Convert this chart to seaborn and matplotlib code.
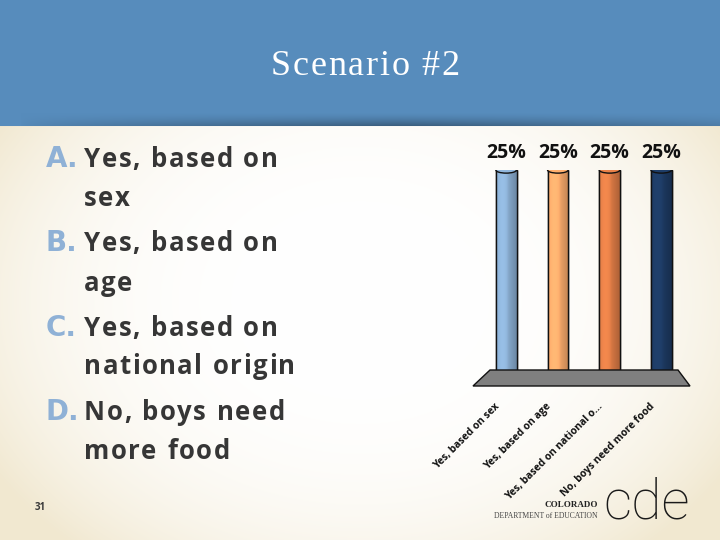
import numpy as np
import pandas as pd
import matplotlib
matplotlib.use("Agg")
import matplotlib.pyplot as plt
import seaborn as sns
from matplotlib.patches import Polygon, Ellipse, Rectangle
from matplotlib.colors import to_rgb
from matplotlib.transforms import ScaledTranslation

# ---- data ----
categories = ["Yes, based on sex", "Yes, based on age",
              "Yes, based on national o...", "No, boys need more food"]
values = [25, 25, 25, 25]
value_labels = ["25%", "25%", "25%", "25%"]
bar_colors = ["#8aaed2", "#f6a86a", "#de7c46", "#1d3a62"]
title = "Scenario #2"
letters = ["A.", "B.", "C.", "D."]
answer_lines = [["Yes, based on", "sex"], ["Yes, based on", "age"],
                ["Yes, based on", "national origin"], ["No, boys need", "more food"]]
page_number = "31"

W, H = 720, 540
sns.set_theme(style="white")
plt.rcParams['font.family'] = ['Open Sans', 'DejaVu Sans']
fig = plt.figure(figsize=(W / 100, H / 100), dpi=100)
renderer = fig.canvas.get_renderer()


def fx(px):
    return px / W


def fy(py):
    return 1 - py / H


def char_widths(s, **kw):
    widths = []
    for ch in s:
        t = fig.text(0, 0, ch if ch != " " else "n", **kw)
        bb = t.get_window_extent(renderer)
        widths.append(bb.width * (0.45 if ch == " " else 1.0))
        t.remove()
    return widths


def tracked_text(x, y, s, spacing_px, align='left', **kw):
    widths = char_widths(s, **kw)
    total = sum(widths) + spacing_px * (len(s) - 1)
    if align == 'center':
        x = x - total / 2
    for ch, w in zip(s, widths):
        if ch != " ":
            fig.text(fx(x), fy(y), ch, ha='left', va='baseline', **kw)
        x += w + spacing_px


# ---- background ----
bg = fig.add_axes([0, 0, 1, 1], zorder=-10)
yy, xx = np.mgrid[0:H, 0:W]
r = np.sqrt(((xx - 360) / 430) ** 2 + ((yy - 300) / 330) ** 2)
t = np.clip(r, 0, 1) ** 3.2
c_in = np.array(to_rgb("#ffffff"))
c_out = np.array(to_rgb("#f1e8d0"))
img = c_in[None, None, :] * (1 - t[..., None]) + c_out[None, None, :] * t[..., None]
band = np.array(to_rgb("#578cbc"))
img[:126] = band
xs = np.arange(W)
hmask = np.clip(1 - np.abs(xs - 400) / 380, 0, 1) ** 0.6
for yrow in range(112, 126):
    f = (yrow - 112) / 13
    dark = 0.32 * f ** 1.5 * hmask
    img[yrow] = band[None, :] * (1 - dark[:, None])
img[126] = img[126] * 0.985
bg.imshow(img, extent=[0, W, H, 0], aspect='auto', interpolation='bilinear')
bg.set_xlim(0, W)
bg.set_ylim(H, 0)
bg.axis('off')

tracked_text(365, 75, title, 1.8, align='center', color="white", fontsize=26,
             family=['Liberation Serif'])

# ---- left answer text ----
line_y = [(158, 197), (242, 282), (327, 365), (411, 450)]
body_kw = dict(color="#363636", fontsize=18.5, fontweight='bold', family=['Open Sans'])
for letter, lines, (y1, y2) in zip(letters, answer_lines, line_y):
    fig.text(fx(46), fy(y1 + 9), letter, color="#8fb1d6", fontsize=20,
             fontweight='bold', family=['DejaVu Sans'], ha='left', va='baseline')
    tracked_text(84, y1 + 9, lines[0], 1.5, **body_kw)
    tracked_text(84, y2 + 9, lines[1], 1.5, **body_kw)

fig.text(fx(40), fy(507), page_number, color="#3a3a3a", fontsize=7,
         fontweight='bold', ha='center', va='center')

# ---- chart ----
ax = fig.add_axes([fx(470), fy(378), fx(230), (378 - 170) / H])
df = pd.DataFrame({"answer": categories, "pct": values})
sns.barplot(data=df, x="answer", y="pct", hue="answer", palette=bar_colors,
            legend=False, width=0.4, ax=ax, edgecolor="#111111", linewidth=1.0,
            zorder=3)
ax.set_xlim(-0.70, 3.75)
ax.set_ylim(0, 25)
ax.set_xlabel("")
ax.set_ylabel("")
ax.set_yticks([])
for s in ax.spines.values():
    s.set_visible(False)
ax.patch.set_alpha(0)

# cylinder shading and caps
for p, col in zip(ax.patches, bar_colors):
    x0, y0 = p.get_x(), p.get_y()
    w, h = p.get_width(), p.get_height()
    base = np.array(to_rgb(col))
    g = np.linspace(0, 1, 50)
    prof = 1.0 + 0.10 * np.sin(np.pi * np.clip(g * 1.6, 0, 1)) - 0.22 * np.clip(g - 0.5, 0, 1) * 2
    grad = np.clip(base[None, :] * prof[:, None], 0, 1)[None, :, :]
    im = ax.imshow(grad, extent=[x0, x0 + w, y0, y0 + h], aspect='auto', zorder=3.5,
                   interpolation='bilinear')
    im.set_clip_path(p)
    ax.add_patch(Rectangle((x0, y0), w, h, fill=False, edgecolor="#111111",
                           linewidth=1.0, zorder=4))
    eh = 0.75
    ax.add_patch(Ellipse((x0 + w / 2, y0 + h), w, eh, facecolor=np.clip(base * 1.05, 0, 1),
                         edgecolor="#111111", linewidth=1.0, zorder=5))
    ax.add_patch(Ellipse((x0 + w / 2, y0), w, eh, facecolor=np.clip(base * 0.9, 0, 1),
                         edgecolor="#111111", linewidth=1.0, zorder=2.9))

for i, lab in enumerate(value_labels):
    ax.text(i, 25.8, lab, ha='center', va='bottom', fontsize=14,
            fontweight='bold', color="#111111", clip_on=False)

ax.set_xticks(range(len(categories)))
ax.set_xticklabels(categories, rotation=45, ha='right', rotation_mode='anchor',
                   fontsize=7.4, fontweight='bold', color="#111111")
ax.tick_params(axis='x', length=0, pad=15)
for lab in ax.get_xticklabels():
    lab.set_transform(lab.get_transform() + ScaledTranslation(-0.12, -0.02, fig.dpi_scale_trans))

# floor
floor = Polygon([(fx(473), fy(386)), (fx(690), fy(386)), (fx(678), fy(370)), (fx(490), fy(370))],
                closed=True, transform=fig.transFigure, facecolor="#7f7f7f",
                edgecolor="#111111", linewidth=1.0, zorder=1)
fig.patches.append(floor)

# ---- logo ----
fig.text(fx(647), fy(503), "cde", fontsize=40, color="#1a1a1a", family=['Roboto', 'Liberation Sans'],
         ha='center', va='center', fontweight='light')
fig.text(fx(598), fy(505), "COLORADO", fontsize=6.5, color="#222222",
         family=['Liberation Serif'], fontweight='bold', ha='right', va='center')
fig.text(fx(598), fy(516), "DEPARTMENT of EDUCATION", fontsize=5.5, color="#444444",
         family=['Liberation Serif'], ha='right', va='center')

fig.savefig("out.png", dpi=100)
